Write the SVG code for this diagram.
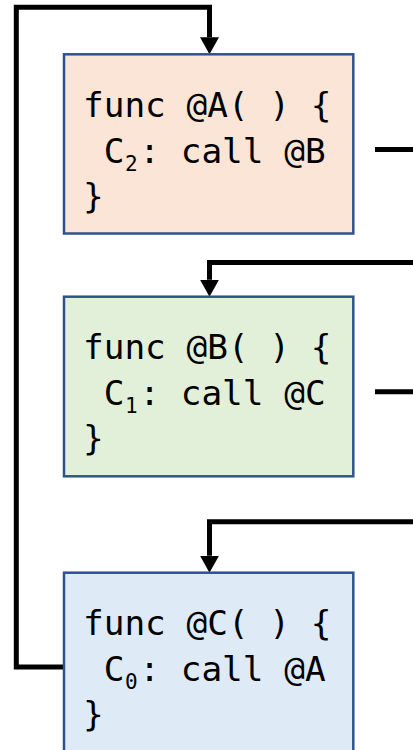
<svg xmlns="http://www.w3.org/2000/svg" width="413" height="750" viewBox="0 0 413 750">
  <defs>
    <marker id="arrow" viewBox="0 0 17 19" refX="0" refY="9.5" markerWidth="17" markerHeight="19" markerUnits="userSpaceOnUse" orient="auto">
      <path d="M0,0 L17,9.5 L0,19 Z" fill="#000"/>
    </marker>
  </defs>
  <style>
    .box { stroke: #2F528F; stroke-width: 2.5; }
    .code { font-family: "DejaVu Sans Mono", "Liberation Mono", monospace; font-size: 34.4px; fill: #000; }
    .sub { font-size: 21px; }
    .conn { fill: none; stroke: #000; stroke-width: 5; stroke-linejoin: miter; stroke-linecap: butt; }
  </style>

  <g id="connectors">
    <path class="conn" d="M64,667 H16.3 V7.3 H209.5 V37.3" marker-end="url(#arrow)"/>
    <path class="conn" d="M375,149.5 H425 V262.5 H209.5 V279.7" marker-end="url(#arrow)"/>
    <path class="conn" d="M375,391.7 H425 V521.7 H209.5 V555.7" marker-end="url(#arrow)"/>
  </g>

  <g id="nodeA">
    <rect class="box" x="64" y="54.3" width="289.3" height="179.2" fill="#FBE5D6"/>
    <text class="code" x="83" y="117">func @A( ) {</text>
    <text class="code" x="103.7" y="163">C<tspan class="sub" x="125" dy="7.5">2</tspan><tspan x="139.3" dy="-7.5">: call @B</tspan></text>
    <text class="code" x="83" y="207.5">}</text>
  </g>

  <g id="nodeB">
    <rect class="box" x="64" y="296.7" width="289.3" height="179.6" fill="#E2F0D9"/>
    <text class="code" x="83" y="359">func @B( ) {</text>
    <text class="code" x="103.7" y="405">C<tspan class="sub" x="125" dy="7.5">1</tspan><tspan x="139.3" dy="-7.5">: call @C</tspan></text>
    <text class="code" x="83" y="449.5">}</text>
  </g>

  <g id="nodeC">
    <rect class="box" x="64" y="572.7" width="289.3" height="200" fill="#DEEBF7"/>
    <text class="code" x="83" y="635.3">func @C( ) {</text>
    <text class="code" x="103.7" y="681.3">C<tspan class="sub" x="125" dy="7.5">0</tspan><tspan x="139.3" dy="-7.5">: call @A</tspan></text>
    <text class="code" x="83" y="725.8">}</text>
  </g>
</svg>
